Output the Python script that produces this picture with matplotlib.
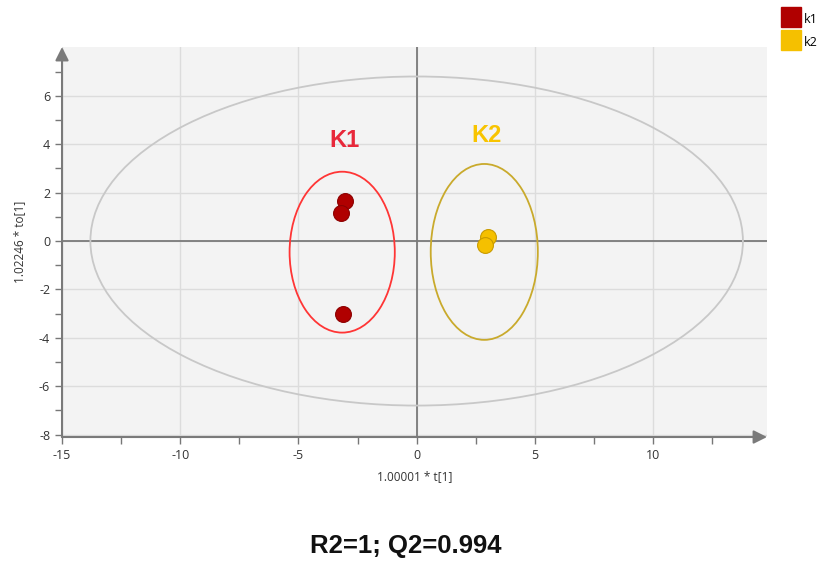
import matplotlib
matplotlib.use("Agg")
import matplotlib.pyplot as plt
from matplotlib.patches import Ellipse
from matplotlib.lines import Line2D

# score values
k1_t = [-3.01, -3.18, -3.10]
k1_to = [1.65, 1.16, -3.02]
k2_t = [3.01, 2.89]
k2_to = [0.17, -0.17]

# group ellipses (centre x, centre y, width, height)
k1_ell = (-3.15, -0.46, 4.45, 6.65)
k2_ell = (2.86, -0.45, 4.53, 7.27)
# Hotelling T2 ellipse semi axes
t2_a, t2_b = 13.8, 6.8

x_ticks = [-15, -10, -5, 0, 5, 10]
y_ticks = [-8, -6, -4, -2, 0, 2, 4, 6]

plt.rcParams["font.family"] = ["Open Sans", "DejaVu Sans"]
plt.rcParams["axes.unicode_minus"] = False

fig = plt.figure(figsize=(8.27, 5.62), dpi=100)
ax = fig.add_axes([0.075, 0.2224, 0.8525, 0.694])
ax.set_facecolor("#f3f3f3")
ax.set_xlim(-15, 14.82)
ax.set_ylim(-8.1, 8.02)

ax.set_xticks(x_ticks)
ax.set_yticks(y_ticks)
ax.set_xticks([-12.5, -7.5, -2.5, 2.5, 7.5, 12.5], minor=True)
ax.set_yticks([-7, -5, -3, -1, 1, 3, 5, 7], minor=True)
ax.tick_params(which="both", direction="out", length=5, width=1, color="#777777",
               labelsize=9, labelcolor="#333333")
ax.grid(True, which="major", color="#dcdcdc", lw=1)
ax.set_axisbelow(True)
for s in ax.spines.values():
    s.set_visible(False)

# axis arrows
arrow = dict(arrowstyle="-|>", color="#7a7a7a", lw=1.5, mutation_scale=20,
             shrinkA=0, shrinkB=0)
ax.annotate("", xy=(0, 1), xytext=(0, 0), xycoords="axes fraction", arrowprops=arrow,
            annotation_clip=False)
ax.annotate("", xy=(1, 0), xytext=(0, 0), xycoords="axes fraction", arrowprops=arrow,
            annotation_clip=False)

ax.axhline(0, color="#7a7a7a", lw=1.3, zorder=1)
ax.axvline(0, color="#7a7a7a", lw=1.3, zorder=1)

ax.add_patch(Ellipse((0, 0), 2 * t2_a, 2 * t2_b, fill=False, ec="#c8c8c8", lw=1.3))
ax.add_patch(Ellipse(k1_ell[:2], k1_ell[2], k1_ell[3], fill=False, ec="#ff3535", lw=1.3))
ax.add_patch(Ellipse(k2_ell[:2], k2_ell[2], k2_ell[3], fill=False, ec="#c9aa2c", lw=1.3))

ax.scatter(k1_t, k1_to, s=130, c="#b00000", edgecolors="#8c0000", lw=0.8, zorder=3)
ax.scatter(k2_t, k2_to, s=130, c="#f5c000", edgecolors="#c99b00", lw=0.8, zorder=3)

ax.text(-3.05, 4.15, "K1", color="#e8283a", fontsize=17, fontweight="bold",
        family="Liberation Sans", ha="center", va="center")
ax.text(2.97, 4.35, "K2", color="#f8c400", fontsize=17, fontweight="bold",
        family="Liberation Sans", ha="center", va="center")

ax.set_xlabel("1.00001 * t[1]", fontsize=8.5, color="#333333", labelpad=6)
ax.set_ylabel("1.02246 * to[1]", fontsize=8.5, color="#333333", labelpad=9)

handles = [Line2D([], [], ls="none", marker="s", ms=14, mfc="#b00000", mec="#b00000"),
           Line2D([], [], ls="none", marker="s", ms=14, mfc="#f5c000", mec="#f5c000")]
fig.legend(handles, ["k1", "k2"], loc="upper left", bbox_to_anchor=(0.937, 0.995),
           frameon=False, fontsize=9, handlelength=1.2, handleheight=1.6,
           handletextpad=0.5, labelspacing=0.55, borderaxespad=0.25)

fig.text(0.491, 0.028, "R2=1; Q2=0.994", family="Liberation Sans", fontsize=18.5,
         fontweight="bold", ha="center", va="center", color="#111111")

fig.savefig("out.png", dpi=100)
